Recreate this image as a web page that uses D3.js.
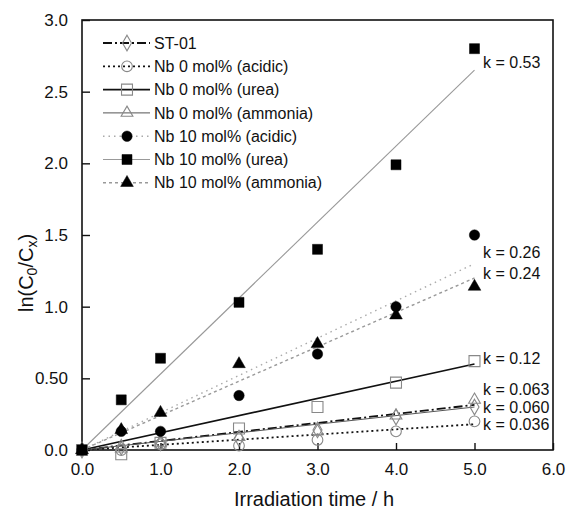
<!DOCTYPE html>
<html>
<head>
<meta charset="utf-8">
<script src="https://cdn.jsdelivr.net/npm/d3@7"></script>
<style>
  html, body { margin: 0; padding: 0; background: #fff; }
  svg text { font-family: "Liberation Sans", Arial, Helvetica, sans-serif; fill: #111; }
</style>
</head>
<body>
<svg id="chart" width="571" height="511"></svg>
<script>
// Irradiation times (h)
const times = [0, 0.5, 1, 2, 3, 4, 5];

// ln(C0/Cx) for each sample
const st01        = [0, 0.02, 0.05, 0.08, 0.14, 0.23, 0.30];
const nb0Acidic   = [0, 0.00, 0.04, 0.03, 0.07, 0.13, 0.20];
const nb0Urea     = [0, -0.03, 0.05, 0.15, 0.30, 0.47, 0.62];
const nb0Ammonia  = [0, 0.01, 0.05, 0.09, 0.13, 0.24, 0.35];
const nb10Acidic  = [0, 0.13, 0.13, 0.38, 0.67, 1.00, 1.50];
const nb10Urea    = [0, 0.35, 0.64, 1.03, 1.40, 1.99, 2.80];
const nb10Ammonia = [0, 0.14, 0.26, 0.60, 0.74, 0.94, 1.14];

// Rate constants of the linear fits
const seriesNames = ["ST-01", "Nb 0 mol% (acidic)", "Nb 0 mol% (urea)", "Nb 0 mol% (ammonia)",
                     "Nb 10 mol% (acidic)", "Nb 10 mol% (urea)", "Nb 10 mol% (ammonia)"];
const rateK = [0.063, 0.036, 0.12, 0.060, 0.26, 0.53, 0.24];
const rateLabels = ["0.063", "0.036", "0.12", "0.060", "0.26", "0.53", "0.24"];

const xTicks = [0, 1, 2, 3, 4, 5, 6];
const xTickLabels = ["0.0", "1.0", "2.0", "3.0", "4.0", "5.0", "6.0"];
const yTicks = [0, 0.5, 1, 1.5, 2, 2.5, 3];
const yTickLabels = ["0.0", "0.50", "1.0", "1.5", "2.0", "2.5", "3.0"];

const values = [st01, nb0Acidic, nb0Urea, nb0Ammonia, nb10Acidic, nb10Urea, nb10Ammonia];

// Drawing styles per series
const styles = [
  { symbol: d3.symbolDiamond,  size: 70, filled: false, line: "#111", width: 1.8, dash: "9,3,2,3" },
  { symbol: d3.symbolCircle,   size: 90, filled: false, line: "#111", width: 1.8, dash: "2,3" },
  { symbol: d3.symbolSquare,   size: 120, filled: false, line: "#111", width: 1.6, dash: null },
  { symbol: d3.symbolTriangle, size: 60, filled: false, line: "#555", width: 1.0, dash: null },
  { symbol: d3.symbolCircle,   size: 85, filled: true,  line: "#aaa", width: 1.4, dash: "1.5,4" },
  { symbol: d3.symbolSquare,   size: 100, filled: true, line: "#999", width: 1.1, dash: null },
  { symbol: d3.symbolTriangle, size: 70, filled: true,  line: "#999", width: 1.4, dash: "3,3" }
];

// k label vertical placement (data units, beside the fit ends)
const labelY = [0.426, 0.181, 0.642, 0.300, 1.381, 2.707, 1.235];

const svg = d3.select("#chart");
const x = d3.scaleLinear().domain([0, 6]).range([82, 553]);
const y = d3.scaleLinear().domain([0, 3]).range([450, 20]);

// Frame
svg.append("rect")
  .attr("x", x(0)).attr("y", y(3))
  .attr("width", x(6) - x(0)).attr("height", y(0) - y(3))
  .attr("fill", "none").attr("stroke", "#111").attr("stroke-width", 1.6);

// Axes with inward ticks
const xAxis = d3.axisBottom(x).tickValues(xTicks).tickSize(-7).tickPadding(13)
  .tickFormat((d, i) => xTickLabels[i]);
const gx = svg.append("g").attr("transform", `translate(0,${y(0)})`).call(xAxis);
gx.select(".domain").remove();
gx.selectAll("line").attr("stroke", "#111").attr("stroke-width", 1.4);
gx.selectAll("text").attr("font-size", 17).style("font-family", "Liberation Sans, Arial, sans-serif").attr("fill", "#111");

const yAxis = d3.axisLeft(y).tickValues(yTicks).tickSize(-8).tickPadding(14)
  .tickFormat((d, i) => yTickLabels[i]);
const gy = svg.append("g").attr("transform", `translate(${x(0)},0)`).call(yAxis);
gy.select(".domain").remove();
gy.selectAll("line").attr("stroke", "#111").attr("stroke-width", 1.4);
gy.selectAll("text").attr("font-size", 17).style("font-family", "Liberation Sans, Arial, sans-serif").attr("fill", "#111");

// Axis titles
svg.append("text")
  .attr("x", 314).attr("y", 506)
  .attr("text-anchor", "middle").attr("font-size", 20)
  .text("Irradiation time / h");

const yt = svg.append("text")
  .attr("transform", "translate(33,273) rotate(-90)")
  .attr("text-anchor", "middle").attr("font-size", 20);
yt.append("tspan").text("ln(C");
yt.append("tspan").attr("font-size", 14).attr("dy", 4).text("0");
yt.append("tspan").attr("dy", -4).text("/C");
yt.append("tspan").attr("font-size", 14).attr("dy", 4).text("x");
yt.append("tspan").attr("dy", -4).text(")");

// Linear fits through the origin, y = k t
const fitLine = d3.line().x(d => x(d[0])).y(d => y(d[1]));
const fits = svg.append("g");
rateK.forEach((k, i) => {
  const s = styles[i];
  fits.append("path")
    .attr("d", fitLine([[0, 0], [5, k * 5]]))
    .attr("fill", "none")
    .attr("stroke", s.line)
    .attr("stroke-width", s.width)
    .attr("stroke-dasharray", s.dash);
});

// Markers
const marks = svg.append("g");
function drawMarker(g, s, cx, cy) {
  g.append("path")
    .attr("d", d3.symbol().type(s.symbol).size(s.size)())
    .attr("transform", `translate(${cx},${cy})`)
    .attr("fill", s.filled ? "#000" : "#fff")
    .attr("fill-opacity", s.filled ? 1 : 0)
    .attr("stroke", s.filled ? "#000" : "#888")
    .attr("stroke-width", s.filled ? 0.5 : 1.1);
}
values.forEach((vals, i) => {
  vals.forEach((v, j) => drawMarker(marks, styles[i], x(times[j]), y(v)));
});

// Rate constant labels
rateK.forEach((k, i) => {
  svg.append("text")
    .attr("x", 483).attr("y", y(labelY[i]))
    .attr("dy", "0.35em")
    .attr("font-size", 16)
    .text("k = " + rateLabels[i]);
});

// Legend
const legend = svg.append("g");
seriesNames.forEach((name, i) => {
  const s = styles[i];
  const ly = 43 + i * 23.3;
  legend.append("line")
    .attr("x1", 103).attr("x2", 150).attr("y1", ly).attr("y2", ly)
    .attr("stroke", s.line).attr("stroke-width", s.width)
    .attr("stroke-dasharray", s.dash);
  drawMarker(legend, s, 127, ly);
  legend.append("text")
    .attr("x", 154).attr("y", ly).attr("dy", "0.35em")
    .attr("font-size", 16)
    .text(name);
});
</script>
</body>
</html>
